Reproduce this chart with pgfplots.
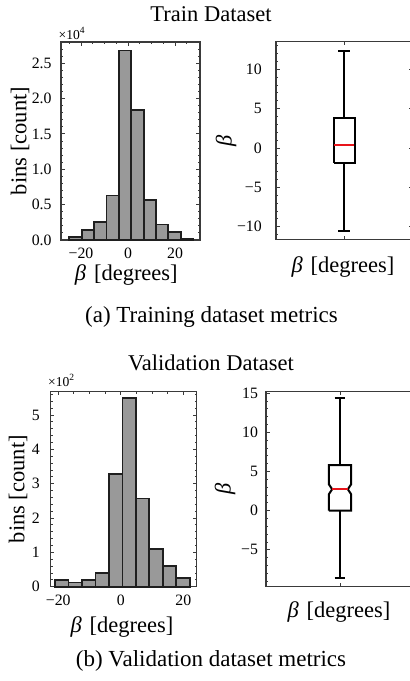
\documentclass[border=0pt]{standalone}
\usepackage{fontspec}
\setmainfont{Liberation Serif}
\usepackage{pgfplots}
\pgfplotsset{compat=1.18}

\definecolor{spine}{HTML}{3A3A3A}
\definecolor{barfill}{HTML}{999999}
\definecolor{medred}{HTML}{E8141A}

\newcommand{\bdeg}{\textit{β}\hspace{0.35em}[degrees]}

\pgfplotsset{
  sci/.style={
    scale only axis,
    anchor=south west,
    axis line style={spine, line width=0.55pt},
    tick style={spine, line width=0.45pt},
    tick align=inside,
    major tick length=1.8pt,
    minor tick length=1pt,
    tick label style={font=\fontsize{7.9}{9}\selectfont},
    label style={font=\fontsize{11.25}{13}\selectfont},
    scaled ticks=false,
    clip=false,
  },
  bars/.style={ybar interval, fill=barfill, draw=black!88, line width=0.9pt},
  boxline/.style={black, line width=1pt, line join=miter, mark=none},
}

\begin{document}
\begin{tikzpicture}
% ---------------- Train histogram ----------------
\begin{axis}[sci, at={(30.5pt,220.5pt)}, width=69.5pt, height=99pt,
  xmin=-28.5, xmax=30.6, ymin=0, ymax=28000,
  xtick={-20,0,20}, xticklabels={−20,0,20},
  minor xtick={-25,-15,-10,-5,5,10,15,25},
  ytick={0,5000,10000,15000,20000,25000},
  yticklabels={0.0,0.5,1.0,1.5,2.0,2.5},
  minor ytick={0,1000,...,28000},
  yticklabel style={xshift=-1.2pt},
  xticklabel style={yshift=-0.4pt},
  xlabel={\bdeg}, ylabel={bins [count]},
  xlabel style={at={(axis description cs:0.47,-0.177)}, anchor=center},
  ylabel style={at={(axis description cs:-0.295,0.5)}, anchor=center},
]
\addplot[bars] coordinates {
  (-25.00,400) (-19.73,1400) (-14.46,2500) (-9.19,6300) (-3.92,26800)
  (1.35,18400) (6.62,5600) (11.89,2200) (17.16,1100) (22.43,200) (27.70,0)
};
\node[font=\fontsize{6.8}{8}\selectfont, anchor=center] at (rel axis cs:0.08,1.045) {×10\textsuperscript{4}};
\end{axis}

% ---------------- Train boxplot ----------------
\begin{axis}[sci, at={(138pt,220.85pt)}, width=68.3pt, height=98.8pt,
  xmin=0.5, xmax=1.5, ymin=-11.6, ymax=13.5,
  xtick={1}, xticklabels={},
  ytick={-10,-5,0,5,10}, yticklabels={−10,−5,0,5,10},
  minor ytick={-11,-10,...,13},
  yticklabel style={xshift=-3.6pt},
  xlabel={\bdeg}, ylabel={\textit{β}},
  xlabel style={at={(axis description cs:0.49,-0.14)}, anchor=center},
  ylabel style={at={(axis description cs:-0.366,0.5)}, anchor=center},
]
\addplot[boxline] coordinates {(0.925,-1.95) (1.075,-1.95) (1.075,3.81) (0.925,3.81) (0.925,-1.95)};
\addplot[boxline] coordinates {(1,3.81) (1,12.37)};
\addplot[boxline] coordinates {(1,-1.95) (1,-10.5)};
\addplot[boxline] coordinates {(0.955,12.37) (1.045,12.37)};
\addplot[boxline] coordinates {(0.955,-10.5) (1.045,-10.5)};
\addplot[medred, line width=1pt, mark=none] coordinates {(0.927,0.38) (1.073,0.38)};
\end{axis}

% ---------------- Validation histogram ----------------
\begin{axis}[sci, at={(25.35pt,47.15pt)}, width=73pt, height=97.5pt,
  xmin=-22.4, xmax=24.3, ymin=0, ymax=568,
  xtick={-20,0,20}, xticklabels={−20,0,20},
  minor xtick={-15,-10,-5,5,10,15},
  ytick={0,100,200,300,400,500},
  yticklabels={0,1,2,3,4,5},
  minor ytick={0,20,...,560},
  yticklabel style={xshift=-1.9pt},
  xticklabel style={yshift=-0.4pt},
  xlabel={\bdeg}, ylabel={bins [count]},
  xlabel style={at={(axis description cs:0.488,-0.207)}, anchor=center},
  ylabel style={at={(axis description cs:-0.224,0.5)}, anchor=center},
]
\addplot[bars] coordinates {
  (-21.00,19) (-16.69,12) (-12.38,19) (-8.07,39) (-3.76,328)
  (0.55,550) (4.86,257) (9.17,109) (13.48,60) (17.79,25) (22.10,0)
};
\node[font=\fontsize{6.8}{8}\selectfont, anchor=center] at (rel axis cs:0.075,1.058) {×10\textsuperscript{2}};
\end{axis}

% ---------------- Validation boxplot (notched) ----------------
\begin{axis}[sci, at={(133pt,47.15pt)}, width=74pt, height=97.5pt,
  xmin=0.5, xmax=1.5, ymin=-9.7, ymax=15.2,
  xtick={1}, xticklabels={},
  ytick={-5,0,5,10,15}, yticklabels={−5,0,5,10,15},
  minor ytick={-9,-8,...,15},
  yticklabel style={xshift=-0.5pt},
  xlabel={\bdeg}, ylabel={\textit{β}},
  xlabel style={at={(axis description cs:0.493,-0.13)}, anchor=center},
  ylabel style={at={(axis description cs:-0.277,0.5)}, anchor=center},
]
\addplot[boxline] coordinates {
  (0.9243,0.0) (1.0757,0.0) (1.0757,2.09) (1.053,2.74) (1.0757,3.39)
  (1.0757,5.81) (0.9243,5.81) (0.9243,3.39) (0.947,2.74) (0.9243,2.09) (0.9243,0.0)
};
\addplot[boxline] coordinates {(1,5.81) (1,14.45)};
\addplot[boxline] coordinates {(1,0.0) (1,-8.54)};
\addplot[boxline] coordinates {(0.963,14.45) (1.037,14.45)};
\addplot[boxline] coordinates {(0.963,-8.54) (1.037,-8.54)};
\addplot[medred, line width=1pt, mark=none] coordinates {(0.949,2.74) (1.051,2.74)};
\end{axis}

% ---------------- Titles and captions ----------------
\node[font=\fontsize{11.25}{13}\selectfont] at (105.5pt,333.25pt) {Train Dataset};
\node[font=\fontsize{11.5}{13}\selectfont] at (105.75pt,182pt) {(a) Training dataset metrics};
\node[font=\fontsize{11.25}{13}\selectfont] at (105.5pt,159pt) {Validation Dataset};
\node[font=\fontsize{11.5}{13}\selectfont] at (105.5pt,10pt) {(b) Validation dataset metrics};

\pgfresetboundingbox
\useasboundingbox (0pt,0pt) rectangle (204.5pt,340.5pt);
\end{tikzpicture}
\end{document}
